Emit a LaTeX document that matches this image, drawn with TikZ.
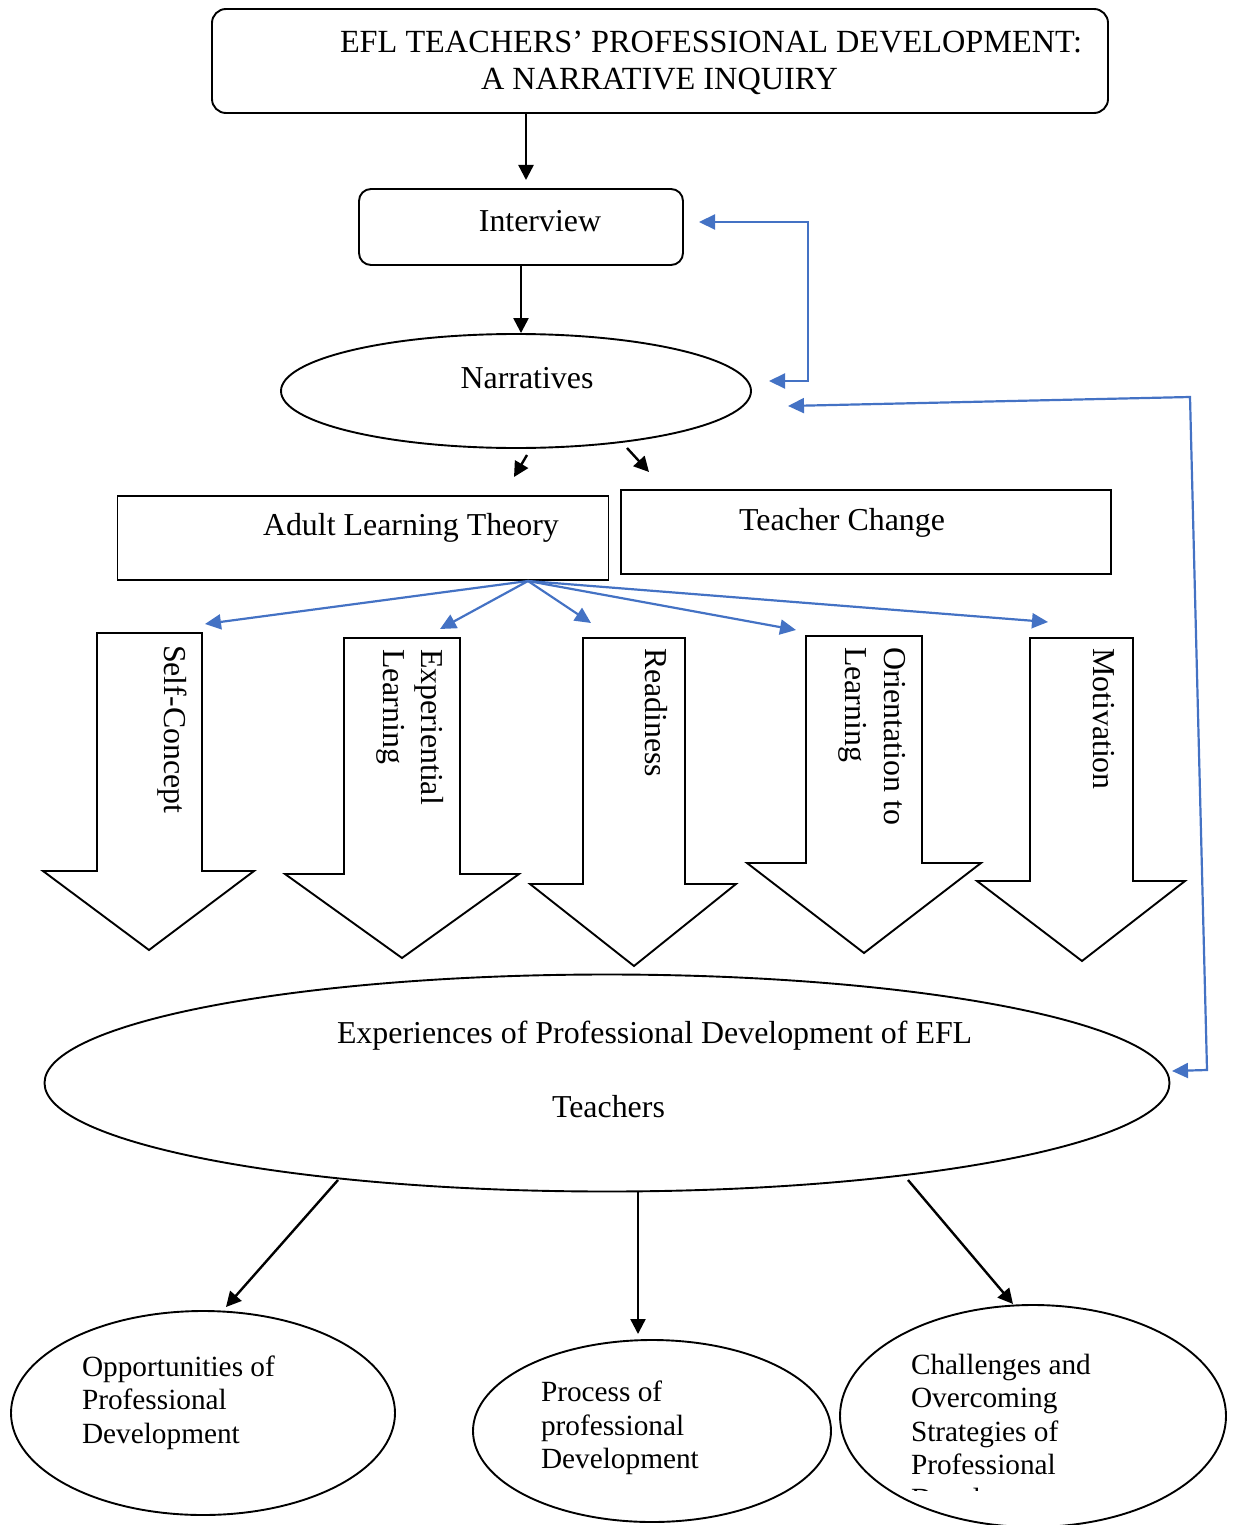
\documentclass[tikz,border=0pt]{standalone}
\usepackage{fontspec}
\setmainfont{Liberation Serif}
\usetikzlibrary{arrows.meta,shapes.geometric,calc}
\definecolor{lineblue}{RGB}{68,114,196}
\begin{document}
\begin{tikzpicture}[x=1pt,y=-1pt,
  font=\fontsize{31.9}{34}\selectfont,
  txt/.style={inner sep=0pt, outer sep=0pt},
  small/.style={txt, font=\fontsize{29.3}{32}\selectfont},
  bx/.style={draw, line width=1.9pt, inner sep=0pt},
  rbx/.style={bx, rounded corners=14pt},
  oval/.style={ellipse, draw, line width=1.9pt, inner sep=0pt},
  blkarr/.style={line width=2.4pt, -{Triangle[length=15pt,width=15pt]}},
  bluearr/.style={draw=lineblue, line width=2.2pt, -{Triangle[length=16pt,width=15pt]}},
  bluedbl/.style={draw=lineblue, line width=2.2pt, {Triangle[length=16pt,width=15pt]}-{Triangle[length=16pt,width=15pt]}},
  bigarrow/.style={draw, line width=1.9pt, line join=miter, fill=white}]
\useasboundingbox (0,0) rectangle (1236,1525);

% title
\node[rbx, minimum width=896pt, minimum height=104pt] (title) at (660,61) {};
\node[txt, anchor=base west, font=\fontsize{32.3}{34}\selectfont] (title1) at (340,53) {EFL TEACHERS’ PROFESSIONAL DEVELOPMENT:};
\node[txt, anchor=base west, font=\fontsize{32.3}{34}\selectfont] (title2) at (481,90) {A NARRATIVE INQUIRY};

% interview
\node[rbx, rounded corners=12pt, minimum width=324pt, minimum height=76pt] (interview) at (521,227) {};
\node[txt, anchor=base] (interviewtxt) at (540,231) {Interview};

% narratives
\node[oval, minimum width=470pt, minimum height=114pt] (narr) at (516,391) {};
\node[txt, anchor=base] (narrtxt) at (527,388) {Narratives};

% boxes
\node[bx, minimum width=491pt, minimum height=84pt] (alt) at (363,538) {};
\node[txt, anchor=base west] (alttxt) at (263,535) {Adult Learning Theory};
\node[bx, minimum width=490pt, minimum height=84pt] (tc) at (866,532) {};
\node[txt, anchor=base] (tctxt) at (842,530) {Teacher Change};

% black arrows top
\draw[blkarr] (title.south -| 526,0) -- (526,180);
\draw[blkarr] (interview.south) -- (narr.north -| interview.south);
\coordinate (na1) at (527,455);
\coordinate (na1t) at (514,477);
\coordinate (na2) at (627,448);
\coordinate (na2t) at (649,472);
\draw[blkarr] (na1) -- (na1t);
\draw[blkarr] (na2) -- (na2t);

% block arrows
\draw[bigarrow] (97,633) -- (97,871) -- (43,871) -- (149,950) -- (254,871) -- (202,871) -- (202,633) -- cycle;
\draw[bigarrow] (344,638) -- (344,874) -- (285,874) -- (402,958) -- (519,874) -- (460,874) -- (460,638) -- cycle;
\draw[bigarrow] (583,638) -- (583,884) -- (530,884) -- (634,966) -- (736,884) -- (685,884) -- (685,638) -- cycle;
\draw[bigarrow] (806,636) -- (806,863) -- (747,863) -- (864,953) -- (981,863) -- (922,863) -- (922,636) -- cycle;
\draw[bigarrow] (1030,638) -- (1030,881) -- (977,881) -- (1082,961) -- (1185,881) -- (1133,881) -- (1133,638) -- cycle;

% rotated labels
\node[txt, rotate=-90, anchor=base west] (sc) at (164,645) {Self-Concept};
\node[txt, rotate=-90, anchor=base west] (el1) at (421,649) {Experiential};
\node[txt, rotate=-90, anchor=base west] (el2) at (383,649) {Learning};
\node[txt, rotate=-90, anchor=base west] (rd) at (645,648) {Readiness};
\node[txt, rotate=-90, anchor=base west] (ol1) at (884,647) {Orientation to};
\node[txt, rotate=-90, anchor=base west] (ol2) at (845,647) {Learning};
\node[txt, rotate=-90, anchor=base west] (mv) at (1093,648) {Motivation};

% blue fan arrows
\coordinate (hub) at (528,581);
\coordinate (t1) at (205,624);
\coordinate (t2) at (440,629);
\coordinate (t3) at (591,623);
\coordinate (t4) at (796,630);
\coordinate (t5) at (1048,622);
\foreach \t in {t1,t2,t3,t4,t5} \draw[bluearr] (hub) -- (\t);

% feedback lines
\coordinate (fa) at (699,222);
\coordinate (fb) at (808,222);
\coordinate (fc) at (808,381);
\coordinate (fd) at (769,381);
\draw[bluedbl] (fa) -- (fb) -- (fc) -- (fd);
\coordinate (ga) at (788,406);
\coordinate (gb) at (1190,397);
\coordinate (gc) at (1207,1070);
\coordinate (gd) at (1172,1071);
\draw[bluedbl] (ga) -- (gb) -- (gc) -- (gd);

% experiences ellipse
\node[oval, minimum width=1125pt, minimum height=217pt] (exp) at (607,1083) {};
\node[txt, anchor=base west] (exptxt1) at (337,1043) {Experiences of Professional Development of EFL};
\node[txt, anchor=base west] (exptxt2) at (552,1117) {Teachers};

% bottom ellipses
\node[oval, minimum width=384pt, minimum height=204pt] (opp) at (203,1413) {};
\node[oval, minimum width=358pt, minimum height=182pt] (proc) at (652,1431) {};
\node[oval, minimum width=386pt, minimum height=222pt] (chal) at (1033,1416) {};

\node[small, anchor=base west] (o1) at (82,1376) {Opportunities of};
\node[small, anchor=base west] (o2) at (82,1409) {Professional};
\node[small, anchor=base west] (o3) at (82,1443) {Development};

\node[small, anchor=base west] (p1) at (541,1401) {Process of};
\node[small, anchor=base west] (p2) at (541,1435) {professional};
\node[small, anchor=base west] (p3) at (541,1468) {Development};

\node[small, anchor=base west] (c1) at (911,1374) {Challenges and};
\node[small, anchor=base west] (c2) at (911,1407) {Overcoming};
\node[small, anchor=base west] (c3) at (911,1441) {Strategies of};
\node[small, anchor=base west] (c4) at (911,1474) {Professional};
\begin{scope}
\clip (840,1300) rectangle (1236,1490);
\node[small, anchor=base west] (c5) at (911,1508) {Development};
\end{scope}

% bottom arrows
\coordinate (ea) at (338,1180);
\coordinate (eat) at (226,1307);
\coordinate (eb) at (638,1192);
\coordinate (ebt) at (638,1334);
\coordinate (ec) at (908,1180);
\coordinate (ect) at (1013,1304);
\draw[blkarr] (ea) -- (eat);
\draw[blkarr] (eb) -- (ebt);
\draw[blkarr] (ec) -- (ect);
\end{tikzpicture}
\end{document}
